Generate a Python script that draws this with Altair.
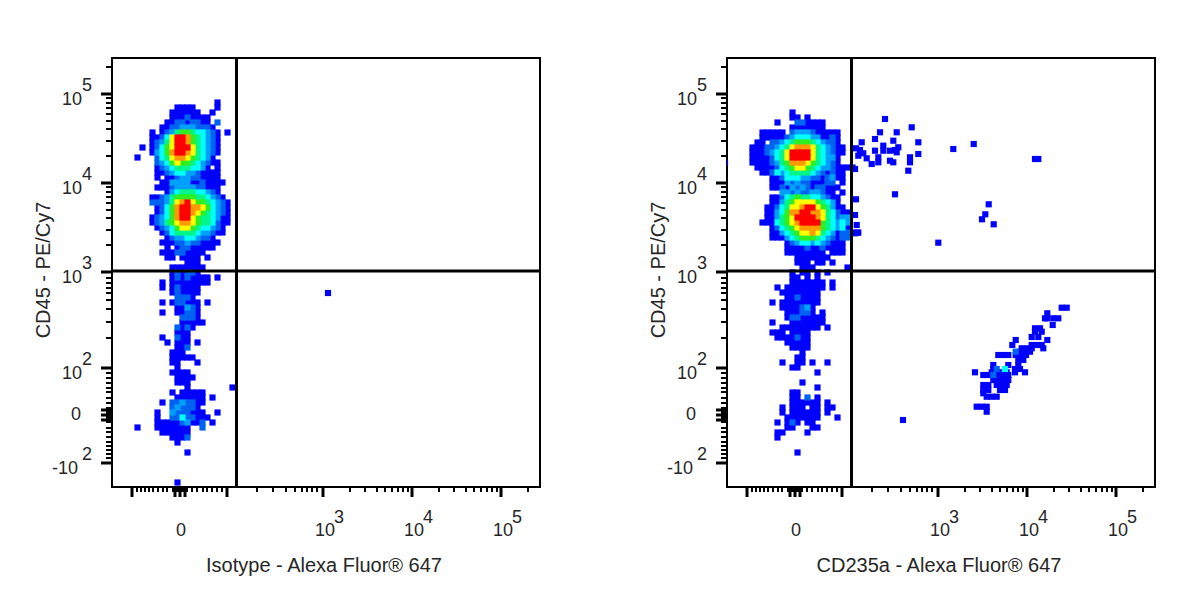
"""Two CD45 flow cytometry pseudocolor plots, side by side."""

import altair as alt
import pandas as pd

# axis positions are in display channels of the biexponential scale (0 = value 0)
x_bins = [-67.5, -62.5, -57.5, -52.5, -47.5, -42.5, -37.5, -32.5, -27.5, -22.5,
          -17.5, -12.5, -7.5, -2.5, 2.5, 7.5, 12.5, 17.5, 22.5, 27.5,
          32.5, 37.5, 42.5, 47.5, 52.5, 57.5, 62.5, 67.5]
top_bin = 322.5
bin_step = 5

# density level per bin, one string per row from the top, "." is an empty bin
left_grid = [
    "",
    "",
    ".....................1",
    ".............1111....1",
    "............111111..1",
    "............11121111",
    "...........112212211.2",
    "..........11223332221",
    "........1.123566544321.1",
    "........11247998654321",
    "........12357998654321",
    "......1.12467999754321",
    "........13468998754321",
    ".....1...245788765431",
    ".........2346766543211",
    ".........12345554431.1",
    ".........1123443321111",
    ".........1.11233221111",
    "..........1133331121111",
    ".........1112333322111",
    "...........13455544321",
    "........112356666554321",
    "........2223578976654321",
    ".........124689988764321",
    ".........124689987654321",
    "........1234689976554311",
    "........1235678876554211",
    ".........12346776544321",
    "..........1245555433211",
    "...........1233443221",
    "..........111223221111",
    "...........1.12211111",
    "..........111221111",
    "...........11.1111.1",
    "...............111",
    "............1111111",
    "............121221",
    "............12121111.1",
    "..........1.11111111",
    "..........1.121111",
    "............121111",
    ".............2221",
    "..........1.122111.1",
    ".............11321",
    "..........1..11221",
    "..............2221",
    "..............11111",
    ".............2121",
    ".............111",
    "..........1..211",
    "...........1.111.1",
    ".............112",
    "............111",
    "............11111",
    "............11...1",
    ".............1",
    "............1111",
    ".............1111",
    ".............111",
    "...............1........1",
    "............1.11111",
    ".............111111.1",
    "..........1.2232211",
    "............232221",
    ".........1..3222111..1",
    ".........1..22422111",
    ".........1111123112.1",
    ".....1...1111111..2",
    "..........111111",
    "............1112",
    ".............1",
    "",
    "...............1",
    "",
    "",
    "",
    "",
    "",
    ".............1",
]

right_grid = [
    "",
    "",
    "",
    "",
    ".............1",
    ".............11.1",
    "..........1...221111",
    ".............1111111",
    ".......11111.2333211111",
    ".......1111123444331121",
    "......11.22345666543221",
    ".....1112234578887543211",
    ".....1112345799997543211",
    ".....111124579999754331",
    ".....111123568887654321",
    "......11112456776543321111",
    ".......11243455554321211",
    ".........112444332212311",
    ".........1113232211122.1",
    ".........11213232122111",
    "...........33232233211.1",
    ".........11245655443211",
    ".........11356777765431",
    "........1124577899765311",
    "........11346889988754211",
    "........11356799998754233",
    ".......111456789999654343",
    ".........1245678888654341",
    ".........113456778754312211",
    ".........1113456665432122",
    "............123443432111",
    "............111121121111",
    "............11111111.111",
    "..............1111111",
    "..............111.11.1",
    "...............111......1",
    ".............1.11.1.1",
    ".............11.1.1",
    ".............1111111.1",
    "..........1.11111111.1",
    "...........11111111",
    "............1121111",
    ".........1.11111111",
    "...........1111231",
    "............111221.1",
    "............12211111",
    ".........1...1111111",
    "...........11111111.1",
    ".........111.1111",
    "..........1111211",
    "............11111",
    ".............1111",
    "...............1",
    "..............11",
    "...........1..11.1..1",
    ".............11",
    "..................1",
    "",
    "...............1",
    "..................1",
    ".............11",
    ".............11.2.1",
    ".............111111.1",
    "...........1.111.11.11",
    "...........1.111111.1",
    "............1111111...1",
    "..........1.121.11",
    "............11...11",
    "..........11....1",
    "..........1",
    "",
    "",
    "..............1",
]

# single events outside the dense populations
left_dot_x = [148]
left_dot_y = [122]

right_dot_x = [90, 116.7, 101.7, 85, 80, 98.3, 66.7, 123.3, 103.3, 88.3, 100, 61,
               65, 80, 88.3, 95, 101.7, 123.3, 63.3, 68.3, 71.7, 83.3, 115, 95,
               98.3, 115, 76.7, 83.3, 60, 113.3, 100, 61, 60, 61.7, 63.3, 60,
               158.3, 178.7, 240, 243.3, 193.7, 190.3, 187, 198.7, 143.3, 108, -70]
right_dot_y = [296, 287.7, 282.7, 282.7, 276, 274.3, 272.7, 272.7, 267.7, 269.3, 265, 266.7,
               265, 264.3, 264.3, 264.3, 262.7, 261, 259.3, 261.7, 256.7, 257.7, 257.7, 254.3,
               252.7, 252.7, 251, 252.7, 246, 244.3, 220.7, 215.7, 200, 190, 182.3, 181.7,
               266, 271, 256, 256, 210.7, 200.7, 195.7, 190.7, 172.3, -5, 252]

# the diagonal population in the lower right gate of the CD235a plot
diag_x = [266.7, 271.7, 252.3, 252.3, 250, 258.3, 263.3, 257.7, 240, 245, 240, 246.7,
          236.7, 243.3, 220.7, 252.3, 217.3, 236.7, 241.7, 246.7, 226.7, 231.7, 236.7, 248.3,
          220.7, 225, 230, 235, 203.3, 208.3, 213.3, 220.7, 225.7, 231, 223.3, 228.3,
          198.3, 213.3, 223.3, 198.3, 201.7, 210, 220, 225, 180, 196.7, 201.7, 206.7,
          211.7, 220, 230, 188.3, 193.3, 198.3, 203.3, 208.3, 213.3, 198.3, 203.3, 208.3,
          213.3, 188.3, 193.3, 201.7, 206.7, 211.7, 188.3, 193.3, 205, 210, 188.3, 191.7,
          196.7, 201.7, 181.7, 186.7, 191.7, 191.7]
diag_y = [107.3, 107.3, 101.7, 96.7, 96.7, 96.7, 96.7, 90, 86.7, 86.7, 83.3, 83.3,
          78, 78, 75, 75, 70, 70, 70, 70, 66.7, 66.7, 66.7, 66.7,
          63.3, 63.3, 63.3, 63.3, 60, 60, 60, 60, 60, 60, 55, 55,
          50, 50, 50, 46, 46, 46, 46, 46, 42.7, 42.7, 42.7, 42.7,
          42.7, 42.7, 42.7, 40, 40, 40, 40, 40, 40, 35, 35, 35,
          35, 30, 30, 30, 30, 30, 25, 25, 25, 25, 21.7, 18.3,
          18.3, 18.3, 8.3, 8.3, 8.3, 3.3]
diag_level = ["1", "1", "1", "1", "1", "1", "1", "1", "1", "1", "1", "1",
              "1", "1", "1", "1", "1", "1", "1", "1", "1", "1", "1", "1",
              "2", "1", "1", "1", "1", "1", "1", "1", "1", "1", "1", "1",
              "1", "1", "1", "1", "2", "4", "1", "1", "1", "1", "1", "1",
              "1", "1", "1", "1", "1", "2", "1", "1", "1", "1", "1", "1",
              "1", "1", "1", "1", "1", "1", "1", "1", "1", "1", "1", "1",
              "1", "1", "1", "1", "1", "1"]

gate_x = 56.5
gate_y = 144

major_ticks = [-48, -5, 0, 5, 47, 143, 232, 321]
minor_ticks = [-43, -39, -35, -31, -27, -22, -17, -13, -7, -3, -1, 1, 3,
               7, 12, 17, 23, 27, 32, 37, 42,
               77, 93, 106, 115, 122, 127, 132, 137,
               170, 185, 197, 205, 212, 218, 223, 228,
               259, 274, 286, 294, 301, 307, 312, 317, 348]

decade_ticks = [143, 232, 321]
decade_powers = ["3", "4", "5"]
y_decade_ticks = [47, 143, 232, 321]
y_decade_powers = ["2", "3", "4", "5"]

level_domain = ["1", "2", "3", "4", "5", "6", "7", "8", "9"]
level_colors = ["#0000ff", "#0062f0", "#00a0ff", "#00ffff", "#00f58a",
                "#30ee20", "#ffff00", "#ff9900", "#ff0000"]

FONT = "Liberation Sans"
TEXT_COLOR = "#262626"
TICK_FONT = 18
TITLE_FONT = 20
PANEL_W = 428
PANEL_H = 429

x_scale = alt.Scale(domain=[-68, 360], nice=False, zero=False)
y_scale = alt.Scale(domain=[-72, 357], nice=False, zero=False)


def grid_to_frame(grid):
    """Turn the level strings into one row per filled bin."""
    records = []
    for r, row in enumerate(grid):
        for x_bin, level in zip(x_bins, row):
            if level != ".":
                records.append({"x": x_bin, "y": top_bin - bin_step * r, "level": level})
    return pd.DataFrame(records)


def events_frame(grid, dots):
    frames = [grid_to_frame(grid)] + dots
    return pd.concat(frames).sort_values("level", kind="stable")


def panel(events, x_title):
    points = (
        alt.Chart(events)
        .mark_square(size=38, opacity=1, clip=True)
        .encode(
            x=alt.X("x:Q", scale=x_scale, axis=None),
            y=alt.Y("y:Q", scale=y_scale, axis=None),
            color=alt.Color(
                "level:N",
                scale=alt.Scale(domain=level_domain, range=level_colors),
                legend=None,
            ),
        )
    )

    v_gate = (
        alt.Chart(pd.DataFrame({"x": [gate_x]}))
        .mark_rule(color="black", strokeWidth=3)
        .encode(x=alt.X("x:Q", scale=x_scale, axis=None))
    )
    h_gate = (
        alt.Chart(pd.DataFrame({"y": [gate_y]}))
        .mark_rule(color="black", strokeWidth=3)
        .encode(y=alt.Y("y:Q", scale=y_scale, axis=None))
    )

    layers = [points, v_gate, h_gate]

    # tick marks drawn by hand since the axis is biexponential
    for ticks, size, stroke in [(major_ticks, 10, 3), (minor_ticks, 5, 2)]:
        df_ticks = pd.DataFrame({"t": ticks})
        layers.append(
            alt.Chart(df_ticks)
            .mark_rule(color="black", strokeWidth=stroke)
            .encode(
                x=alt.X("t:Q", scale=x_scale, axis=None),
                y=alt.value(PANEL_H),
                y2=alt.value(PANEL_H + size),
            )
        )
        layers.append(
            alt.Chart(df_ticks)
            .mark_rule(color="black", strokeWidth=stroke)
            .encode(
                y=alt.Y("t:Q", scale=y_scale, axis=None),
                x=alt.value(-size - 1),
                x2=alt.value(0),
            )
        )

    # x tick labels
    x_tens = pd.DataFrame({"t": decade_ticks, "label": ["10"] * len(decade_ticks)})
    x_pows = pd.DataFrame({"t": decade_ticks, "label": decade_powers})
    x_zero = pd.DataFrame({"t": [0], "label": ["0"]})
    layers.append(
        alt.Chart(x_tens)
        .mark_text(font=FONT, fontSize=TICK_FONT, color=TEXT_COLOR, dx=2)
        .encode(x=alt.X("t:Q", scale=x_scale, axis=None), y=alt.value(PANEL_H + 44), text="label:N")
    )
    layers.append(
        alt.Chart(x_pows)
        .mark_text(font=FONT, fontSize=TICK_FONT, color=TEXT_COLOR, dx=16)
        .encode(x=alt.X("t:Q", scale=x_scale, axis=None), y=alt.value(PANEL_H + 31), text="label:N")
    )
    layers.append(
        alt.Chart(x_zero)
        .mark_text(font=FONT, fontSize=TICK_FONT, color=TEXT_COLOR, dx=1)
        .encode(x=alt.X("t:Q", scale=x_scale, axis=None), y=alt.value(PANEL_H + 44), text="label:N")
    )

    # y tick labels
    y_tens = pd.DataFrame({"t": y_decade_ticks, "label": ["10"] * len(y_decade_ticks)})
    y_pows = pd.DataFrame({"t": y_decade_ticks + [-48], "label": y_decade_powers + ["2"]})
    y_zero = pd.DataFrame({"t": [0], "label": ["0"]})
    y_neg = pd.DataFrame({"t": [-48], "label": ["-10"]})
    layers.append(
        alt.Chart(y_tens)
        .mark_text(font=FONT, fontSize=TICK_FONT, color=TEXT_COLOR, align="right", dy=5.5)
        .encode(y=alt.Y("t:Q", scale=y_scale, axis=None), x=alt.value(-30), text="label:N")
    )
    layers.append(
        alt.Chart(y_pows)
        .mark_text(font=FONT, fontSize=TICK_FONT, color=TEXT_COLOR, dy=-8)
        .encode(y=alt.Y("t:Q", scale=y_scale, axis=None), x=alt.value(-25), text="label:N")
    )
    layers.append(
        alt.Chart(y_zero)
        .mark_text(font=FONT, fontSize=TICK_FONT, color=TEXT_COLOR, align="right")
        .encode(y=alt.Y("t:Q", scale=y_scale, axis=None), x=alt.value(-31), text="label:N")
    )
    layers.append(
        alt.Chart(y_neg)
        .mark_text(font=FONT, fontSize=TICK_FONT, color=TEXT_COLOR, align="right", dy=6)
        .encode(y=alt.Y("t:Q", scale=y_scale, axis=None), x=alt.value(-34), text="label:N")
    )

    # axis titles
    layers.append(
        alt.Chart(pd.DataFrame({"label": [x_title]}))
        .mark_text(font=FONT, fontSize=TITLE_FONT, color=TEXT_COLOR)
        .encode(x=alt.value(212), y=alt.value(PANEL_H + 79), text="label:N")
    )
    layers.append(
        alt.Chart(pd.DataFrame({"label": ["CD45 - PE/Cy7"]}))
        .mark_text(font=FONT, fontSize=TITLE_FONT, color=TEXT_COLOR, angle=270)
        .encode(x=alt.value(-68), y=alt.value(212), text="label:N")
    )

    return alt.layer(*layers).properties(width=PANEL_W, height=PANEL_H)


left_events = events_frame(
    left_grid,
    [pd.DataFrame({"x": left_dot_x, "y": left_dot_y, "level": ["1"] * len(left_dot_x)})],
)
right_events = events_frame(
    right_grid,
    [
        pd.DataFrame({"x": right_dot_x, "y": right_dot_y, "level": ["1"] * len(right_dot_x)}),
        pd.DataFrame({"x": diag_x, "y": diag_y, "level": diag_level}),
    ],
)

chart = (
    alt.hconcat(
        panel(left_events, "Isotype - Alexa Fluor® 647"),
        panel(right_events, "CD235a - Alexa Fluor® 647"),
        spacing=105,
    )
    .properties(padding={"left": 25, "top": 47, "right": 5, "bottom": 5}, background="white")
    .configure_view(stroke="black", strokeWidth=2)
)

chart.save("out.html", embed_options={"renderer": "svg", "actions": False})
